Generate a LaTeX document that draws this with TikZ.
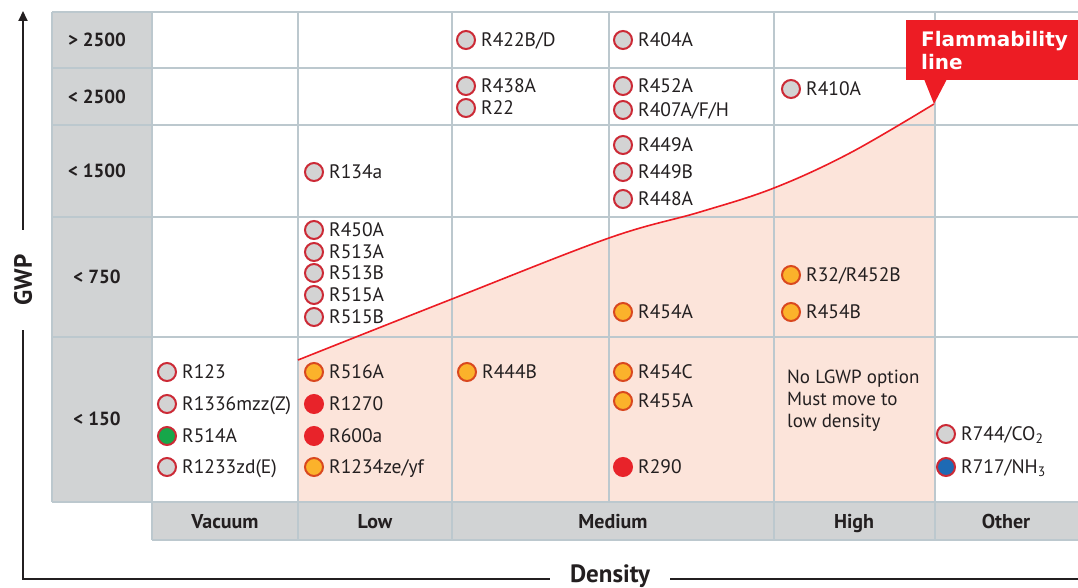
\documentclass[tikz,border=0pt]{standalone}
\usepackage{fontspec}
\setmainfont{PT Sans}
\newfontfamily\calloutfont{DejaVu Sans}
\usetikzlibrary{arrows.meta}

\definecolor{gridline}{HTML}{BCC8CE}
\definecolor{headgray}{HTML}{D1D3D4}
\definecolor{safezone}{HTML}{FCE4DA}
\definecolor{flamred}{HTML}{ED1C24}
\definecolor{ringred}{HTML}{CC2A36}
\definecolor{ringorange}{HTML}{D9481F}
\definecolor{dotgray}{HTML}{D3D3D3}
\definecolor{dotorange}{HTML}{FBB22B}
\definecolor{dotred}{HTML}{E8232A}
\definecolor{dotgreen}{HTML}{16A74A}
\definecolor{dotblue}{HTML}{1E6AB4}
\definecolor{inkdark}{HTML}{231F20}

\begin{document}
\begin{tikzpicture}[x=1pt,y=-1pt,
  grid/.style={draw=gridline,line width=1.6pt},
  axisline/.style={draw=inkdark,line width=1.8pt,{Triangle[width=9pt,length=10pt]}-{Triangle[width=9pt,length=10pt]}},
  axislabel/.style={fill=white,text=inkdark,font=\bfseries\fontsize{25}{28}\selectfont,inner xsep=20pt,inner ysep=2pt,text height=17.5pt,text depth=5pt},
  rowhead/.style={text=inkdark,font=\bfseries\fontsize{19}{22}\selectfont,text height=13.5pt,text depth=0pt},
  colhead/.style={text=inkdark,font=\bfseries\fontsize{20}{22}\selectfont,text height=14pt,text depth=0pt},
  gas/.style={circle,draw=ringred,line width=2pt,minimum size=18pt,inner sep=0pt,fill=dotgray},
  hot/.style={gas,draw=ringorange,fill=dotorange},
  burn/.style={gas,draw=dotred,fill=dotred},
  gasname/.style={text=inkdark,font=\fontsize{19.5}{22}\selectfont,inner sep=1pt,text height=13.6pt,text depth=0pt},
  note/.style={text=inkdark,font=\fontsize{19}{22}\selectfont,align=left,inner sep=0pt},
  flambox/.style={fill=flamred,text=white,font=\calloutfont\bfseries\fontsize{20}{23}\selectfont,align=left,inner xsep=11pt,minimum width=200pt,minimum height=60pt,text width=170pt}]
  \useasboundingbox (0,0) rectangle (1078,588);
  \clip (0,0) rectangle (1078,588);
  \fill[white] (0,0) rectangle (1078,588);

  %backgrounds
  \fill[headgray] (52,12) rectangle (152,502);
  \fill[headgray] (152,502) rectangle (1078,540);
  \fill[safezone] (298,502) -- plot[smooth,tension=0.6] coordinates {(298,360) (452,299) (609,238) (700,212) (774,188) (850,153) (934,104)} -- (935,502) -- cycle;

  %grid
  \draw[grid] (52,12) -- (1078,12) (52,68) -- (1078,68) (52,125) -- (1078,125) (52,217) -- (1078,217) (52,337) -- (1078,337) (52,502) -- (1078,502);
  \draw[grid] (52,12) -- (52,502) (152,12) -- (152,540) (298,12) -- (298,540) (452,12) -- (452,540) (609,12) -- (609,502) (774,12) -- (774,540) (935,12) -- (935,540);
  \draw[grid] (152,540) -- (1078,540);

  %flammability line
  \coordinate (flamtip) at (934,104);
  \draw[flamred,line width=1.6pt] plot[smooth,tension=0.6] coordinates {(298,360) (452,299) (609,238) (700,212) (774,188) (850,153) (934,104)};
  \node[flambox,anchor=north west] (flam) at (906,20) {Flammability\\line};
  \fill[flamred] (924,79) -- (flamtip) -- (947,79) -- cycle;

  %axes
  \coordinate (axisorigin) at (23,579);
  \coordinate (axistop) at (23,11);
  \coordinate (axisend) at (1088,579);
  \draw[axisline] (axistop) -- (axisorigin) -- (axisend);
  \node[axislabel,rotate=90,inner xsep=24pt,text depth=0pt] (gwp) at (23,280) {GWP};
  \node[axislabel,anchor=base] (density) at (610,582) {Density};

  %row heads
  \node[rowhead] (gwp2500up) at (97,40) {> 2500};
  \node[rowhead] (gwp2500) at (97,97) {< 2500};
  \node[rowhead] (gwp1500) at (97,171) {< 1500};
  \node[rowhead] (gwp750) at (97,277) {< 750};
  \node[rowhead] (gwp150) at (97,419) {< 150};

  %column heads
  \node[colhead] (vacuum) at (225,521) {Vacuum};
  \node[colhead] (low) at (375,521) {Low};
  \node[colhead] (medium) at (613,521) {Medium};
  \node[colhead] (high) at (854,521) {High};
  \node[colhead] (other) at (1006,521) {Other};

  %vacuum
  \node[gas,label={[gasname,label distance=4pt]right:R123}] (r123) at (167,372) {};
  \node[gas,label={[gasname,label distance=4pt]right:R1336mzz(Z)}] (r1336mzz) at (167,404) {};
  \node[gas,fill=dotgreen,label={[gasname,label distance=4pt]right:R514A}] (r514a) at (167,436) {};
  \node[gas,label={[gasname,label distance=4pt]right:R1233zd(E)}] (r1233zd) at (167,467) {};

  %low
  \node[gas,label={[gasname,label distance=4pt]right:R134a}] (r134a) at (314,172) {};
  \node[gas,label={[gasname,label distance=4pt]right:R450A}] (r450a) at (314,230) {};
  \node[gas,label={[gasname,label distance=4pt]right:R513A}] (r513a) at (314,252) {};
  \node[gas,label={[gasname,label distance=4pt]right:R513B}] (r513b) at (314,273) {};
  \node[gas,label={[gasname,label distance=4pt]right:R515A}] (r515a) at (314,295) {};
  \node[gas,label={[gasname,label distance=4pt]right:R515B}] (r515b) at (314,317) {};
  \node[hot,label={[gasname,label distance=4pt]right:R516A}] (r516a) at (314,372) {};
  \node[burn,label={[gasname,label distance=4pt]right:R1270}] (r1270) at (314,404) {};
  \node[burn,label={[gasname,label distance=4pt]right:R600a}] (r600a) at (314,436) {};
  \node[hot,label={[gasname,label distance=4pt]right:R1234ze/yf}] (r1234ze) at (314,467) {};

  %medium
  \node[gas,label={[gasname,label distance=4pt]right:R422B/D}] (r422b) at (466,40) {};
  \node[gas,label={[gasname,label distance=4pt]right:R438A}] (r438a) at (466,86) {};
  \node[gas,label={[gasname,label distance=4pt]right:R22}] (r22) at (466,108) {};
  \node[hot,label={[gasname,label distance=4pt]right:R444B}] (r444b) at (467,372) {};
  \node[gas,label={[gasname,label distance=4pt]right:R404A}] (r404a) at (623,40) {};
  \node[gas,label={[gasname,label distance=4pt]right:R452A}] (r452a) at (623,86) {};
  \node[gas,label={[gasname,label distance=4pt]right:R407A/F/H}] (r407a) at (623,110) {};
  \node[gas,label={[gasname,label distance=4pt]right:R449A}] (r449a) at (623,145) {};
  \node[gas,label={[gasname,label distance=4pt]right:R449B}] (r449b) at (623,172) {};
  \node[gas,label={[gasname,label distance=4pt]right:R448A}] (r448a) at (623,199) {};
  \node[hot,label={[gasname,label distance=4pt]right:R454A}] (r454a) at (623,312) {};
  \node[hot,label={[gasname,label distance=4pt]right:R454C}] (r454c) at (623,372) {};
  \node[hot,label={[gasname,label distance=4pt]right:R455A}] (r455a) at (623,401) {};
  \node[burn,label={[gasname,label distance=4pt]right:R290}] (r290) at (623,467) {};

  %high
  \node[gas,label={[gasname,label distance=4pt]right:R410A}] (r410a) at (791,89) {};
  \node[hot,label={[gasname,label distance=4pt]right:R32/R452B}] (r32) at (791,275) {};
  \node[hot,label={[gasname,label distance=4pt]right:R454B}] (r454b) at (791,312) {};
  \node[note,anchor=north west] (nolgwp) at (787,370) {No LGWP option\\Must move to\\low density};

  %other
  \node[gas,label={[gasname,label distance=4pt]right:R744/CO\textsubscript{2}}] (r744) at (946,434) {};
  \node[gas,fill=dotblue,label={[gasname,label distance=4pt]right:R717/NH\textsubscript{3}}] (r717) at (946,467) {};
\end{tikzpicture}
\end{document}
